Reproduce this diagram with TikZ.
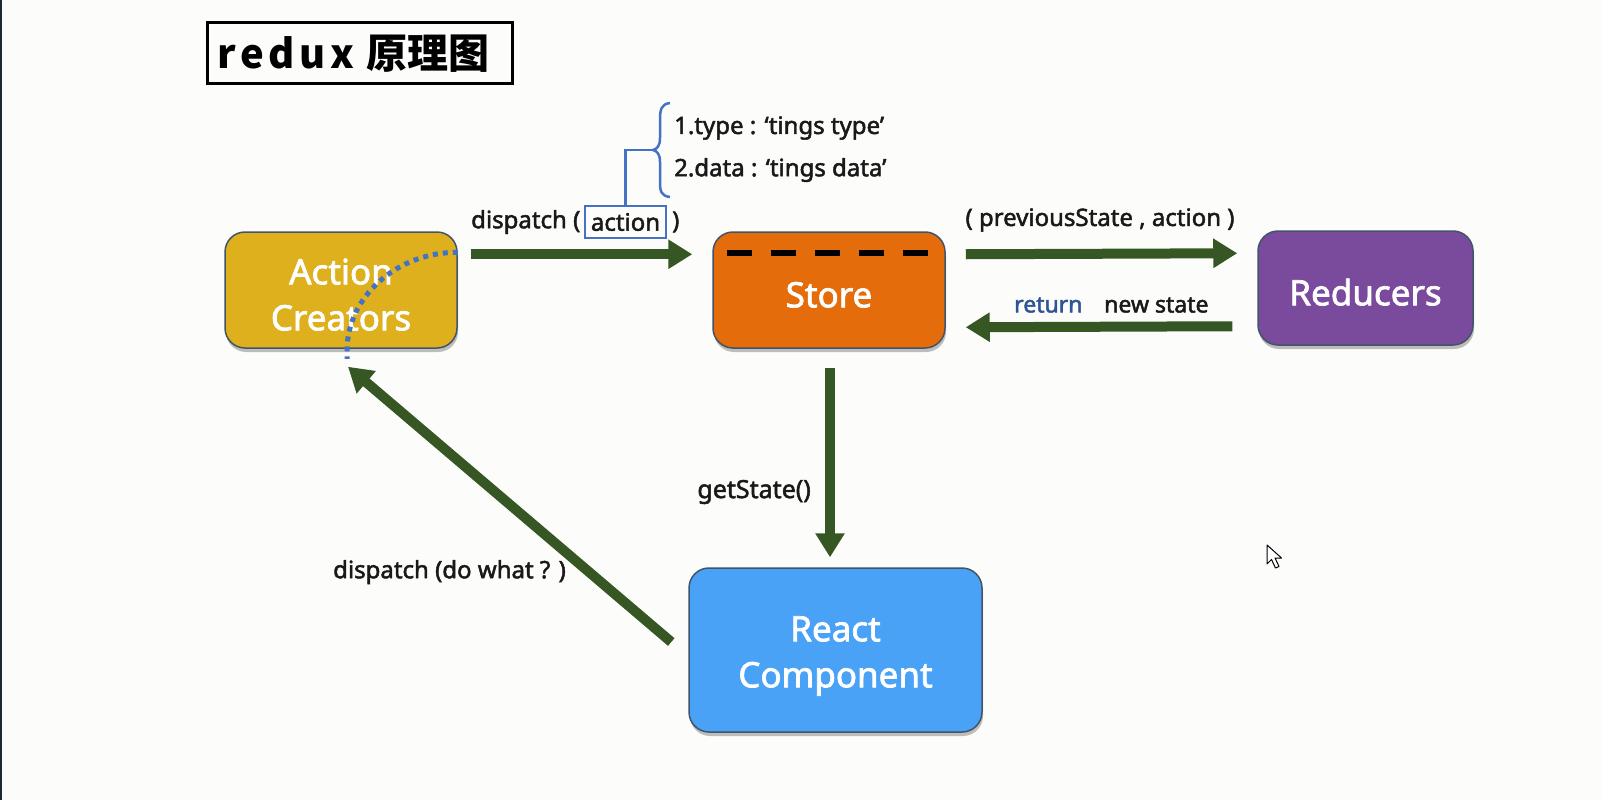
\documentclass[tikz,border=0pt]{standalone}
\usepackage{fontspec}
\setmainfont{Noto Sans}[FakeBold=2]
\newfontfamily\cjk{Noto Sans CJK SC}
\usetikzlibrary{arrows.meta,calc,shadows}
\definecolor{cBg}{RGB}{252,253,251}
\definecolor{cEdge}{RGB}{30,42,48}
\definecolor{cAct}{RGB}{222,176,30}
\definecolor{cStore}{RGB}{228,108,10}
\definecolor{cRed}{RGB}{122,74,156}
\definecolor{cReact}{RGB}{74,162,246}
\definecolor{cBorder}{RGB}{65,84,106}
\definecolor{cGreen}{RGB}{54,86,35}
\definecolor{cBlue}{RGB}{68,114,196}
\definecolor{cRet}{RGB}{47,85,151}
\newcommand\tup{\rule{0pt}{35pt}}
\begin{document}
\begin{tikzpicture}[x=1pt,y=-1pt,
  box/.style={draw=cBorder, line width=1.5pt, rounded corners=20pt, text=white, align=center,
    font=\fontsize{35}{46}\selectfont, inner sep=0pt,
    drop shadow={shadow xshift=1pt, shadow yshift=-4pt, opacity=.25, fill=black}},
  arr/.style={draw=cGreen, line width=10pt, -{Triangle[length=24pt,width=28pt]}},
  lbl/.style={inner sep=0pt, text=black!90, font=\fontsize{24}{28}\selectfont},
  bline/.style={draw=cBlue, line width=2.5pt}
]
\fill[cBg] (0,0) rectangle (1602,800);
\fill[cEdge] (0,0) rectangle (1.5,800);
\useasboundingbox (0,0) rectangle (1602,800);

% title
\node[draw=black, line width=3pt, minimum width=305pt, minimum height=60pt, inner sep=0pt] (title) at (359.5,53) {};
\node[inner sep=0pt, anchor=west] (ttext) at (217,54)
  {\cjk\bfseries\fontsize{40}{46}\selectfont{\addfontfeatures{LetterSpace=12}redux}\hspace{12pt}\fontsize{41}{46}\selectfont 原理图};

% nodes
\node[box, fill=cAct, minimum width=232pt, minimum height=116pt] (act) at (341,290) {\tup Action\\Creators};
\node[box, fill=cStore, minimum width=232pt, minimum height=116pt] (store) at (829,290) {\tup Store};
\node[box, fill=cRed, minimum width=215pt, minimum height=114pt] (red) at (1365.5,288) {\tup Reducers};
\node[box, fill=cReact, minimum width=293pt, minimum height=164pt] (react) at (835.5,650) {\rule{0pt}{37pt}React\\Component};

% store dashes
\draw[black, line width=6pt, dash pattern=on 25pt off 19pt] ($(store.north west)+(15,22)$) -- ($(store.north east)+(-15,22)$);

% arrows
\draw[arr] ($(act.north east)+(13,23)$) -- ($(store.north west)+(-20,23)$);
\draw[arr] ($(store.north east)+(20,23)$) -- ($(red.north west)+(-20,23)$);
\draw[arr] ($(red.north west)+(-25,96)$) -- ($(store.north east)+(20,96)$);
\draw[arr] ($(store.south)+(1,19)$) -- ($(react.north)+(-5.5,-10)$);
\draw[arr] ($(react.west)+(-17,-8)$) -- ($(act.south)+(7,18)$);

% dotted curve
\draw[cBlue, line width=5pt, dash pattern=on 5pt off 5pt]
  ($(act.north east)+(0,21)$) .. controls ($(act.north east)+(-61,21)$) and ($(act.south)+(6,-52)$) .. ($(act.south)+(6,2)$) -- ($(act.south)+(6,10)$);

% labels
\node[lbl, anchor=west] (dl) at (471,222) {dispatch (};
\node[lbl, draw=cBlue, line width=2pt, minimum width=81pt, minimum height=32pt] (actbox) at (625.5,222) {action};
\node[lbl, anchor=west] (dr) at (672,222) {)};
\coordinate (btip) at (653,150);
\draw[bline] (actbox.north) |- (btip);
\draw[bline] (670,103) .. controls (661,104) and (660,110) .. (660,120) -- (660,138)
  .. controls (660,146) and (657,149) .. (btip)
  .. controls (657,151) and (660,154) .. (660,162) -- (660,182)
  .. controls (660,191) and (661,196) .. (670,197);
\node[lbl, anchor=west] (ty) at (674,128) {1.type : ‘tings type’};
\node[lbl, anchor=west] (da) at (674,170) {2.data : ‘tings data’};

\node[lbl] (prev) at (1100,220) {( previousState , action )};
\node[lbl, anchor=west, text=cRet, font=\fontsize{23}{27}\selectfont] (ret) at (1014,305) {return};
\node[lbl, anchor=west, font=\fontsize{23}{27}\selectfont] (ns) at (1104,305) {new state};
\node[lbl, anchor=east, font=\fontsize{25}{29}\selectfont] (gs) at (811,492) {getState()};
\node[lbl, anchor=west] (dw) at (333,572) {dispatch (do what ? )};

% cursor
\draw[fill=white, draw=black, line width=1pt, line join=round] (1267,545) -- ++(0,19) -- ++(4.5,-4.5) -- ++(4,8.5) -- ++(3.5,-1.5) -- ++(-4,-8.5) -- ++(6.5,0) -- cycle;
\end{tikzpicture}
\end{document}
